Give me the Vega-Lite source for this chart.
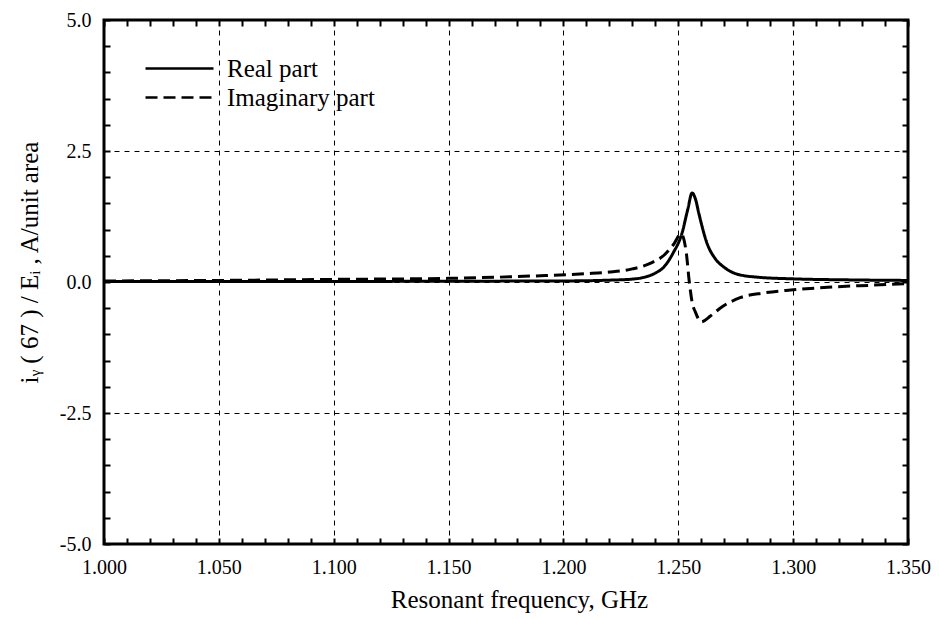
{
  "$schema": "https://vega.github.io/schema/vega-lite/v6.json",
  "width": 804,
  "height": 524,
  "autosize": {"type": "none"},
  "padding": {"left": 104, "top": 20, "right": 31, "bottom": 75},
  "background": "white",
  "config": {
    "view": {"stroke": "black", "strokeWidth": 3},
    "font": "Liberation Serif",
    "axis": {"labelFont": "Liberation Serif", "titleFont": "Liberation Serif", "labelColor": "black", "titleColor": "black", "titleFontWeight": "normal", "tickColor": "black", "domain": false}
  },
  "data": {"values": [
    {"f": 1.000, "v": 0.01, "series": "Real part"},
    {"f": 1.050, "v": 0.01, "series": "Real part"},
    {"f": 1.100, "v": 0.01, "series": "Real part"},
    {"f": 1.150, "v": 0.015, "series": "Real part"},
    {"f": 1.200, "v": 0.02, "series": "Real part"},
    {"f": 1.220, "v": 0.035, "series": "Real part"},
    {"f": 1.230, "v": 0.055, "series": "Real part"},
    {"f": 1.236, "v": 0.1, "series": "Real part"},
    {"f": 1.240, "v": 0.17, "series": "Real part"},
    {"f": 1.244, "v": 0.30, "series": "Real part"},
    {"f": 1.2477, "v": 0.55, "series": "Real part"},
    {"f": 1.2516, "v": 0.93, "series": "Real part"},
    {"f": 1.2542, "v": 1.40, "series": "Real part"},
    {"f": 1.2560, "v": 1.70, "series": "Real part"},
    {"f": 1.2575, "v": 1.58, "series": "Real part"},
    {"f": 1.2590, "v": 1.30, "series": "Real part"},
    {"f": 1.2625, "v": 0.74, "series": "Real part"},
    {"f": 1.2660, "v": 0.45, "series": "Real part"},
    {"f": 1.2700, "v": 0.28, "series": "Real part"},
    {"f": 1.2756, "v": 0.15, "series": "Real part"},
    {"f": 1.2850, "v": 0.09, "series": "Real part"},
    {"f": 1.300, "v": 0.06, "series": "Real part"},
    {"f": 1.325, "v": 0.04, "series": "Real part"},
    {"f": 1.350, "v": 0.03, "series": "Real part"},
    {"f": 1.000, "v": 0.02, "series": "Imaginary part"},
    {"f": 1.050, "v": 0.03, "series": "Imaginary part"},
    {"f": 1.100, "v": 0.05, "series": "Imaginary part"},
    {"f": 1.150, "v": 0.07, "series": "Imaginary part"},
    {"f": 1.170, "v": 0.09, "series": "Imaginary part"},
    {"f": 1.190, "v": 0.12, "series": "Imaginary part"},
    {"f": 1.210, "v": 0.16, "series": "Imaginary part"},
    {"f": 1.220, "v": 0.19, "series": "Imaginary part"},
    {"f": 1.230, "v": 0.25, "series": "Imaginary part"},
    {"f": 1.238, "v": 0.36, "series": "Imaginary part"},
    {"f": 1.244, "v": 0.52, "series": "Imaginary part"},
    {"f": 1.248, "v": 0.72, "series": "Imaginary part"},
    {"f": 1.2512, "v": 0.92, "series": "Imaginary part"},
    {"f": 1.2535, "v": 0.55, "series": "Imaginary part"},
    {"f": 1.2548, "v": 0.0, "series": "Imaginary part"},
    {"f": 1.2560, "v": -0.38, "series": "Imaginary part"},
    {"f": 1.2575, "v": -0.58, "series": "Imaginary part"},
    {"f": 1.2600, "v": -0.76, "series": "Imaginary part"},
    {"f": 1.2640, "v": -0.65, "series": "Imaginary part"},
    {"f": 1.2682, "v": -0.50, "series": "Imaginary part"},
    {"f": 1.2769, "v": -0.30, "series": "Imaginary part"},
    {"f": 1.2869, "v": -0.21, "series": "Imaginary part"},
    {"f": 1.300, "v": -0.15, "series": "Imaginary part"},
    {"f": 1.315, "v": -0.10, "series": "Imaginary part"},
    {"f": 1.335, "v": -0.06, "series": "Imaginary part"},
    {"f": 1.350, "v": -0.03, "series": "Imaginary part"}
  ]},
  "layer": [
    {
      "transform": [{"filter": "datum.series == 'Real part'"}],
      "mark": {"type": "line", "color": "black", "strokeWidth": 3, "interpolate": "monotone", "clip": true},
      "encoding": {
        "x": {"field": "f", "type": "quantitative", "scale": {"domain": [1.0, 1.35], "nice": false, "zero": false},
          "axis": {
            "orient": "bottom",
            "title": "Resonant frequency, GHz",
            "titleFontSize": 25, "titlePadding": 10, "titleX": 415,
            "values": [1.00,1.01,1.02,1.03,1.04,1.05,1.06,1.07,1.08,1.09,1.10,1.11,1.12,1.13,1.14,1.15,1.16,1.17,1.18,1.19,1.20,1.21,1.22,1.23,1.24,1.25,1.26,1.27,1.28,1.29,1.30,1.31,1.32,1.33,1.34,1.35],
            "labelExpr": "abs(round(datum.value*100)%5)==0 ? format(datum.value,'.3f') : ''",
            "labelFontSize": 20, "labelPadding": 19, "labelFlush": false, "labelOverlap": false,
            "tickSize": -6, "tickWidth": 2,
            "grid": true, "gridColor": "black", "gridDash": [5, 5], "gridWidth": 1,
            "gridOpacity": {"condition": {"test": "abs(round(datum.value*100)%5)==0 && datum.value > 1.001 && datum.value < 1.349", "value": 1}, "value": 0}
          }},
        "y": {"field": "v", "type": "quantitative", "scale": {"domain": [-5, 5], "nice": false, "zero": false},
          "axis": {
            "orient": "left",
            "title": "iᵧ  ( 67 )  /  Eᵢ ,  A/unit area",
            "titleFontSize": 25, "titlePadding": 17, "titleY": 242,
            "values": [-5,-4.5,-4,-3.5,-3,-2.5,-2,-1.5,-1,-0.5,0,0.5,1,1.5,2,2.5,3,3.5,4,4.5,5],
            "labelExpr": "abs(round(datum.value*10)%25)==0 ? replace(format(datum.value,'.1f'),'\u2212','-') : ''",
            "labelFontSize": 20, "labelPadding": 19, "labelFlush": false, "labelOverlap": false,
            "tickSize": -6, "tickWidth": 2,
            "grid": true, "gridColor": "black", "gridDash": [5, 5], "gridWidth": 1,
            "gridOpacity": {"condition": {"test": "abs(round(datum.value*10)%25)==0 && datum.value > -4.99 && datum.value < 4.99", "value": 1}, "value": 0}
          }},
        "strokeDash": {"field": "series", "type": "nominal",
          "scale": {"domain": ["Real part", "Imaginary part"], "range": [[1, 0], [12, 6]]},
          "legend": {"title": null, "orient": "none", "legendX": 40, "legendY": 34, "symbolType": "stroke", "symbolStrokeWidth": 2.5, "symbolStrokeColor": "black", "symbolSize": 4624, "clipHeight": 29, "labelFontSize": 25, "labelFont": "Liberation Serif", "labelColor": "black", "rowPadding": 0, "labelOffset": 12}}
      }
    },
    {
      "transform": [{"filter": "datum.series == 'Imaginary part'"}],
      "mark": {"type": "line", "color": "black", "strokeWidth": 3, "interpolate": "monotone", "clip": true},
      "encoding": {
        "x": {"field": "f", "type": "quantitative",
          "axis": {"orient": "top", "title": null, "labels": false, "grid": false, "tickSize": -6, "tickWidth": 2,
            "values": [1.00,1.01,1.02,1.03,1.04,1.05,1.06,1.07,1.08,1.09,1.10,1.11,1.12,1.13,1.14,1.15,1.16,1.17,1.18,1.19,1.20,1.21,1.22,1.23,1.24,1.25,1.26,1.27,1.28,1.29,1.30,1.31,1.32,1.33,1.34,1.35]}},
        "y": {"field": "v", "type": "quantitative",
          "axis": {"orient": "right", "title": null, "labels": false, "grid": false, "tickSize": -6, "tickWidth": 2,
            "values": [-5,-4.5,-4,-3.5,-3,-2.5,-2,-1.5,-1,-0.5,0,0.5,1,1.5,2,2.5,3,3.5,4,4.5,5]}},
        "strokeDash": {"field": "series", "type": "nominal"}
      }
    }
  ],
  "resolve": {"axis": {"x": "independent", "y": "independent"}}
}
